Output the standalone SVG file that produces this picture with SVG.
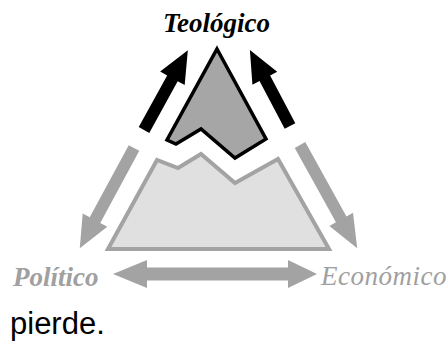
<svg xmlns="http://www.w3.org/2000/svg" width="448" height="341" viewBox="0 0 448 341">
<style>
.lbl{font-family:"Liberation Serif","Times New Roman",serif;font-size:27px;font-style:italic}
.b{font-weight:bold}
.gray{fill:#a0a0a0}
.blk{fill:#000}
.garrow{fill:#a3a3a3}
.barrow{fill:#000}
</style>
<rect width="448" height="341" fill="#fff"/>
<g id="base">
<polygon points="108,249 329,249 278,159 235,183 201,154 178,168 157,160" fill="#e0e0e0" stroke="#a3a3a3" stroke-width="4" stroke-linejoin="miter"/>
</g>
<g id="peak">
<polygon points="217,49 266,139 235,158 201,129 176,144 167,140" fill="#a6a6a6" stroke="#000" stroke-width="3.5" stroke-linejoin="miter"/>
</g>
<g id="connectors">
<path class="barrow" transform="translate(144,130) rotate(-61.2)" d="M0,-6 L59,-6 L59,-14 L91,0 L59,14 L59,6 L0,6 Z"/>
<path class="barrow" transform="translate(290,126) rotate(-117.8)" d="M0,-6 L54,-6 L54,-14 L86,0 L54,14 L54,6 L0,6 Z"/>
<path class="garrow" transform="translate(134,148) rotate(118.4)" d="M0,-6 L82,-6 L82,-14 L114,0 L82,14 L82,6 L0,6 Z"/>
<path class="garrow" transform="translate(300,145) rotate(61)" d="M0,-6 L85,-6 L85,-13.5 L118,0 L85,13.5 L85,6 L0,6 Z"/>
<path class="garrow" d="M113,274 L147,260 L147,267.5 L288,267.5 L288,260 L317,274 L288,288 L288,280.5 L147,280.5 L147,288 Z"/>
</g>
<g id="teologico"><text class="lbl b blk" x="163" y="32">Teológico</text></g>
<g id="politico"><text class="lbl b gray" x="13" y="286">Político</text></g>
<g id="economico"><text class="lbl gray" x="321" y="285" letter-spacing="0.5">Económico</text></g>
<text x="10" y="334" font-family="Liberation Sans, Arial, sans-serif" font-size="31" fill="#000">pierde.</text>
</svg>
